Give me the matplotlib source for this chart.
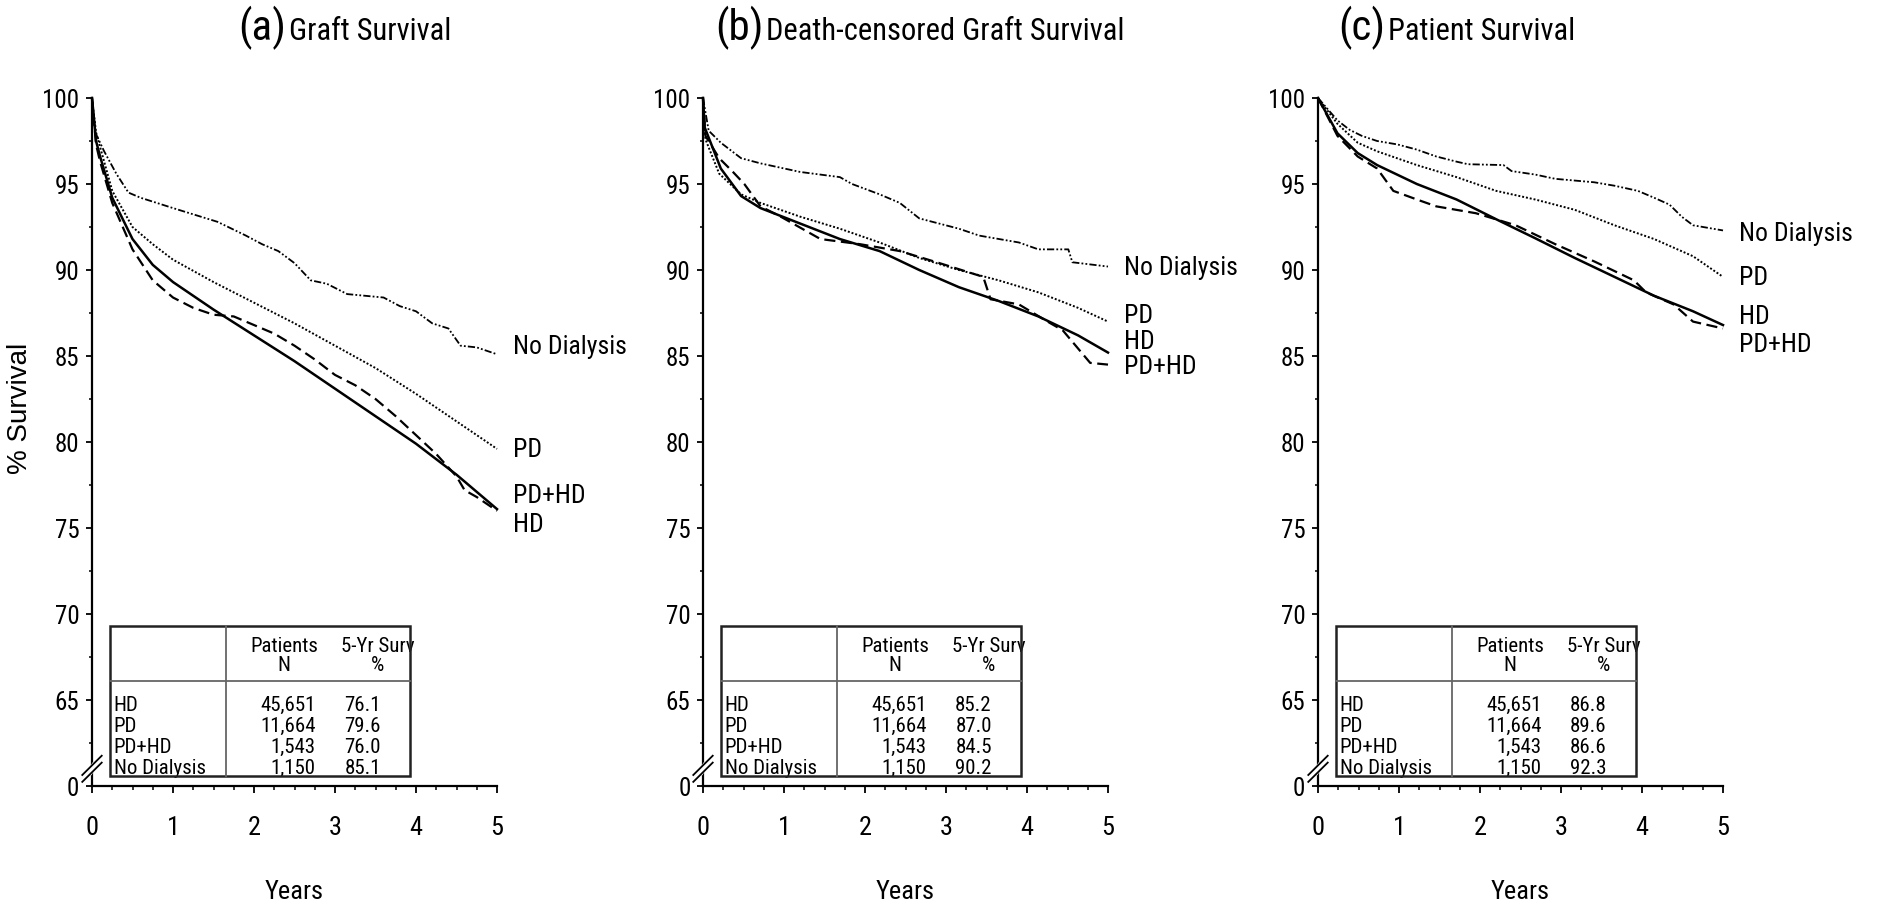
"""
plot.py

Kaplan-Meier style survival curves by pre-transplant dialysis modality:
(a) graft survival, (b) death-censored graft survival, (c) patient survival.
"""

import matplotlib
matplotlib.use("Agg")
import matplotlib.pyplot as plt
from matplotlib import font_manager as fm
from matplotlib.patches import Rectangle
from matplotlib.ticker import FixedLocator, MultipleLocator

# ─── Data ─────────────────────────────────────────────────────────────────────
GROUPS = ["HD", "PD", "PD+HD", "No Dialysis"]
PATIENTS_N = ["45,651", "11,664", "1,543", "1,150"]

# (a) Graft survival
a_hd_t = [0, 0.05, 0.1, 0.25, 0.5, 0.75, 1.0, 1.5, 2.0, 2.5, 3.0, 3.5, 4.0, 4.5, 5.0]
a_hd = [100, 97.5, 96.6, 94.2, 91.8, 90.3, 89.3, 87.7, 86.2, 84.7, 83.1, 81.5, 79.9, 78.1, 76.1]
a_pd_t = [0, 0.05, 0.25, 0.5, 0.75, 1.0, 1.5, 2.0, 2.5, 3.0, 3.5, 4.0, 4.5, 5.0]
a_pd = [100, 98.0, 94.6, 92.5, 91.5, 90.6, 89.3, 88.1, 86.9, 85.6, 84.3, 82.8, 81.2, 79.6]
a_pdhd_t = [0, 0.05, 0.1, 0.25, 0.5, 0.75, 1.0, 1.25, 1.5, 1.75, 2.0, 2.25, 2.5,
            2.75, 3.0, 3.25, 3.5, 3.75, 4.0, 4.25, 4.5, 4.6, 4.75, 5.0]
a_pdhd = [100, 97.3, 96.3, 93.9, 91.2, 89.4, 88.4, 87.8, 87.4, 87.3, 86.8, 86.3, 85.6,
          84.8, 83.9, 83.3, 82.5, 81.5, 80.4, 79.3, 78.0, 77.2, 76.8, 76.0]
a_nd_t = [0, 0.04, 0.15, 0.3, 0.45, 0.6, 1.0, 1.55, 1.9, 2.1, 2.3, 2.5, 2.7, 2.9,
          3.15, 3.6, 3.8, 4.0, 4.2, 4.4, 4.55, 4.75, 5.0]
a_nd = [100, 98.0, 96.9, 95.6, 94.5, 94.2, 93.6, 92.8, 92.0, 91.5, 91.1, 90.4, 89.4, 89.2,
        88.6, 88.4, 87.9, 87.6, 86.9, 86.6, 85.6, 85.5, 85.1]
a_surv = ["76.1", "79.6", "76.0", "85.1"]

# (b) Death-censored graft survival
b_hd_t = [0, 0.02, 0.22, 0.47, 0.71, 1.2, 1.69, 2.18, 2.67, 3.16, 3.65, 4.14, 4.63, 5.0]
b_hd = [100, 98.3, 95.9, 94.3, 93.6, 92.7, 91.8, 91.1, 90.0, 89.0, 88.2, 87.3, 86.2, 85.2]
b_pd_t = [0, 0.03, 0.2, 0.47, 0.71, 1.2, 1.69, 2.18, 2.67, 3.16, 3.65, 4.14, 4.63, 5.0]
b_pd = [100, 97.6, 95.6, 94.4, 93.9, 93.1, 92.4, 91.6, 90.7, 90.0, 89.4, 88.7, 87.8, 87.0]
b_pdhd_t = [0, 0.03, 0.2, 0.37, 0.51, 0.71, 0.96, 1.45, 1.94, 2.43, 2.92, 3.46, 3.55,
            3.9, 4.29, 4.44, 4.78, 5.0]
b_pdhd = [100, 97.8, 96.5, 95.7, 95.0, 93.7, 93.1, 91.8, 91.5, 91.1, 90.4, 89.6, 88.3,
          88.0, 86.9, 86.5, 84.6, 84.5]
b_nd_t = [0, 0.07, 0.22, 0.47, 0.71, 1.2, 1.69, 1.84, 2.18, 2.43, 2.67, 3.16, 3.41,
          3.9, 4.14, 4.51, 4.56, 5.0]
b_nd = [100, 98.1, 97.4, 96.5, 96.2, 95.7, 95.4, 95.0, 94.4, 93.9, 93.0, 92.4, 92.0,
        91.6, 91.2, 91.2, 90.45, 90.2]
b_surv = ["85.2", "87.0", "84.5", "90.2"]

# (c) Patient survival
c_hd_t = [0, 0.24, 0.49, 0.73, 1.22, 1.71, 2.2, 2.68, 3.17, 3.66, 4.15, 4.63, 5.0]
c_hd = [100, 97.95, 96.8, 96.1, 95.0, 94.1, 92.95, 91.85, 90.7, 89.6, 88.5, 87.6, 86.8]
c_pd_t = [0, 0.24, 0.49, 0.73, 1.22, 1.71, 2.2, 2.68, 3.17, 3.66, 4.15, 4.63, 5.0]
c_pd = [100, 98.5, 97.4, 96.9, 96.1, 95.4, 94.6, 94.1, 93.5, 92.6, 91.8, 90.8, 89.6]
c_pdhd_t = [0, 0.24, 0.49, 0.73, 0.93, 1.22, 1.46, 1.95, 2.44, 2.93, 3.41, 3.9, 4.05,
            4.39, 4.63, 5.0]
c_pdhd = [100, 97.8, 96.6, 95.9, 94.6, 94.1, 93.7, 93.3, 92.6, 91.5, 90.5, 89.4, 88.7,
          88.0, 87.0, 86.6]
c_nd_t = [0, 0.24, 0.39, 0.54, 0.73, 0.98, 1.22, 1.46, 1.71, 1.85, 2.29, 2.39, 2.68,
          2.93, 3.41, 3.66, 3.95, 4.15, 4.34, 4.49, 4.63, 5.0]
c_nd = [100, 98.7, 98.15, 97.8, 97.5, 97.3, 97.0, 96.6, 96.3, 96.15, 96.1, 95.75, 95.55,
        95.3, 95.1, 94.9, 94.6, 94.2, 93.8, 93.1, 92.6, 92.3]
c_surv = ["86.8", "89.6", "86.6", "92.3"]

Y_TICKS = [60, 65, 70, 75, 80, 85, 90, 95, 100]
Y_TICK_LABELS = ["0", "65", "70", "75", "80", "85", "90", "95", "100"]
X_TICKS = [0, 1, 2, 3, 4, 5]

# ─── Style ────────────────────────────────────────────────────────────────────
W, H = 1878, 904
AX_BOTTOM, AX_TOP, AX_W = 787, 99, 405

# the original uses a narrow Helvetica; take the first condensed sans on hand
_installed = {f.name for f in fm.fontManager.ttflist}
_narrow = [n for n in ["Liberation Sans Narrow", "Roboto Condensed", "Archivo Narrow",
                       "Asap Condensed", "DejaVu Sans Condensed"] if n in _installed]
NARROW = _narrow[:1] + ["Liberation Sans", "DejaVu Sans"]
REGULAR = ["Liberation Sans", "DejaVu Sans"]
plt.rcParams["font.family"] = NARROW

STYLES = {
    "HD": dict(linestyle="-", linewidth=1.8),
    "PD": dict(linestyle=(0, (1, 1)), linewidth=1.4),
    "PD+HD": dict(linestyle=(0, (5, 2.5)), linewidth=1.6),
    "No Dialysis": dict(linestyle=(0, (4, 1.2, 1, 1.2, 1, 1.2)), linewidth=1.3),
}
# ──────────────────────────────────────────────────────────────────────────────


def px(x, y):
    """pixel (from top-left) -> figure fraction"""
    return x / W, 1 - y / H


def draw_table(ax, surv):
    x0, x1, xsep = 0.045, 0.785, 0.331
    y0, y1, ysep = 0.015, 0.233, 0.153
    kw = dict(transform=ax.transAxes, clip_on=False)
    ax.add_patch(Rectangle((x0, y0), x1 - x0, y1 - y0, fill=False,
                           edgecolor="#222222", linewidth=1.8, zorder=5, **kw))
    ax.plot([x0, x1], [ysep, ysep], color="#666666", linewidth=1.3, zorder=5, **kw)
    ax.plot([xsep, xsep], [y0, y1], color="#666666", linewidth=1.3, zorder=5, **kw)

    fs = 15
    ax.text(0.474, 0.204, "Patients", ha="center", va="center", fontsize=fs, **kw)
    ax.text(0.474, 0.176, "N", ha="center", va="center", fontsize=fs, **kw)
    ax.text(0.705, 0.204, "5-Yr Surv", ha="center", va="center", fontsize=fs, **kw)
    ax.text(0.705, 0.176, "%", ha="center", va="center", fontsize=fs, **kw)

    rows_y = [0.118, 0.088, 0.057, 0.027]
    for ry, g, n, s in zip(rows_y, GROUPS, PATIENTS_N, surv):
        ax.text(0.054, ry, g, ha="left", va="center", fontsize=fs, **kw)
        ax.text(0.552, ry, n, ha="right", va="center", fontsize=fs, **kw)
        ax.text(0.668, ry, s, ha="center", va="center", fontsize=fs, **kw)


def draw_panel(ax, curves, surv, nudges):
    for g, (t, v) in zip(GROUPS, curves):
        ax.plot(t, v, color="black", clip_on=False, **STYLES[g])
        ax.text(5.2, v[-1] + nudges[g], g, ha="left", va="center",
                fontsize=18.5, clip_on=False)

    ax.set_xlim(0, 5)
    ax.set_ylim(60, 100)
    for s in ["top", "right"]:
        ax.spines[s].set_visible(False)
    for s in ["left", "bottom"]:
        ax.spines[s].set_linewidth(1.6)

    ax.yaxis.set_major_locator(FixedLocator(Y_TICKS))
    ax.set_yticklabels(Y_TICK_LABELS)
    ax.yaxis.set_minor_locator(MultipleLocator(2.5))
    ax.xaxis.set_major_locator(FixedLocator(X_TICKS))
    ax.xaxis.set_minor_locator(MultipleLocator(0.25))
    ax.tick_params(axis="y", which="major", length=4, width=1.3, pad=5, labelsize=18)
    ax.tick_params(axis="y", which="minor", length=2.5, width=1.1)
    ax.tick_params(axis="x", which="major", length=5, width=1.3, pad=16, labelsize=19)
    ax.tick_params(axis="x", which="minor", length=3, width=1.1)
    ax.set_xlabel("Years", fontsize=19, labelpad=29)

    # axis break marks near the bottom of the y axis
    kw = dict(transform=ax.transAxes, clip_on=False, color="black", linewidth=1.3)
    yb = 0.025
    ax.plot([-0.004, 0.004], [yb - 0.004, yb + 0.004], color="white",
            linewidth=4, transform=ax.transAxes, clip_on=False, zorder=6)
    for dy in (-0.005, 0.005):
        ax.plot([-0.024, 0.024], [yb + dy - 0.014, yb + dy + 0.014], zorder=7, **kw)

    draw_table(ax, surv)


fig = plt.figure(figsize=(W / 100, H / 100), dpi=100)

lefts = [92, 703, 1318]
axes = []
for lx in lefts:
    l, b = px(lx, AX_BOTTOM)
    axes.append(fig.add_axes([l, b, AX_W / W, (AX_BOTTOM - AX_TOP) / H]))

draw_panel(axes[0],
           [(a_hd_t, a_hd), (a_pd_t, a_pd), (a_pdhd_t, a_pdhd), (a_nd_t, a_nd)],
           a_surv, {"HD": -0.85, "PD": 0.0, "PD+HD": 0.9, "No Dialysis": 0.5})
draw_panel(axes[1],
           [(b_hd_t, b_hd), (b_pd_t, b_pd), (b_pdhd_t, b_pdhd), (b_nd_t, b_nd)],
           b_surv, {"HD": 0.7, "PD": 0.4, "PD+HD": -0.1, "No Dialysis": 0.0})
draw_panel(axes[2],
           [(c_hd_t, c_hd), (c_pd_t, c_pd), (c_pdhd_t, c_pdhd), (c_nd_t, c_nd)],
           c_surv, {"HD": 0.55, "PD": 0.0, "PD+HD": -0.9, "No Dialysis": -0.15})

axes[0].set_ylabel("% Survival", fontsize=20, family=REGULAR)
axes[0].yaxis.set_label_coords(-0.145, 0.55)

# panel titles: big letter in parentheses followed by the caption
titles = [("(a)", "Graft Survival", 238),
          ("(b)", "Death-censored Graft Survival", 715),
          ("(c)", "Patient Survival", 1338)]
for letter, caption, x in titles:
    bx, by = px(x, 40)
    lt = fig.text(bx, by, letter, fontsize=31, va="baseline", ha="left")
    axes[0].annotate(caption, xy=(1, by), xycoords=(lt, fig.transFigure),
                     xytext=(2, 0), textcoords="offset points",
                     fontsize=22, va="baseline", ha="left", annotation_clip=False)

fig.savefig("out.png", dpi=100, facecolor="white")
